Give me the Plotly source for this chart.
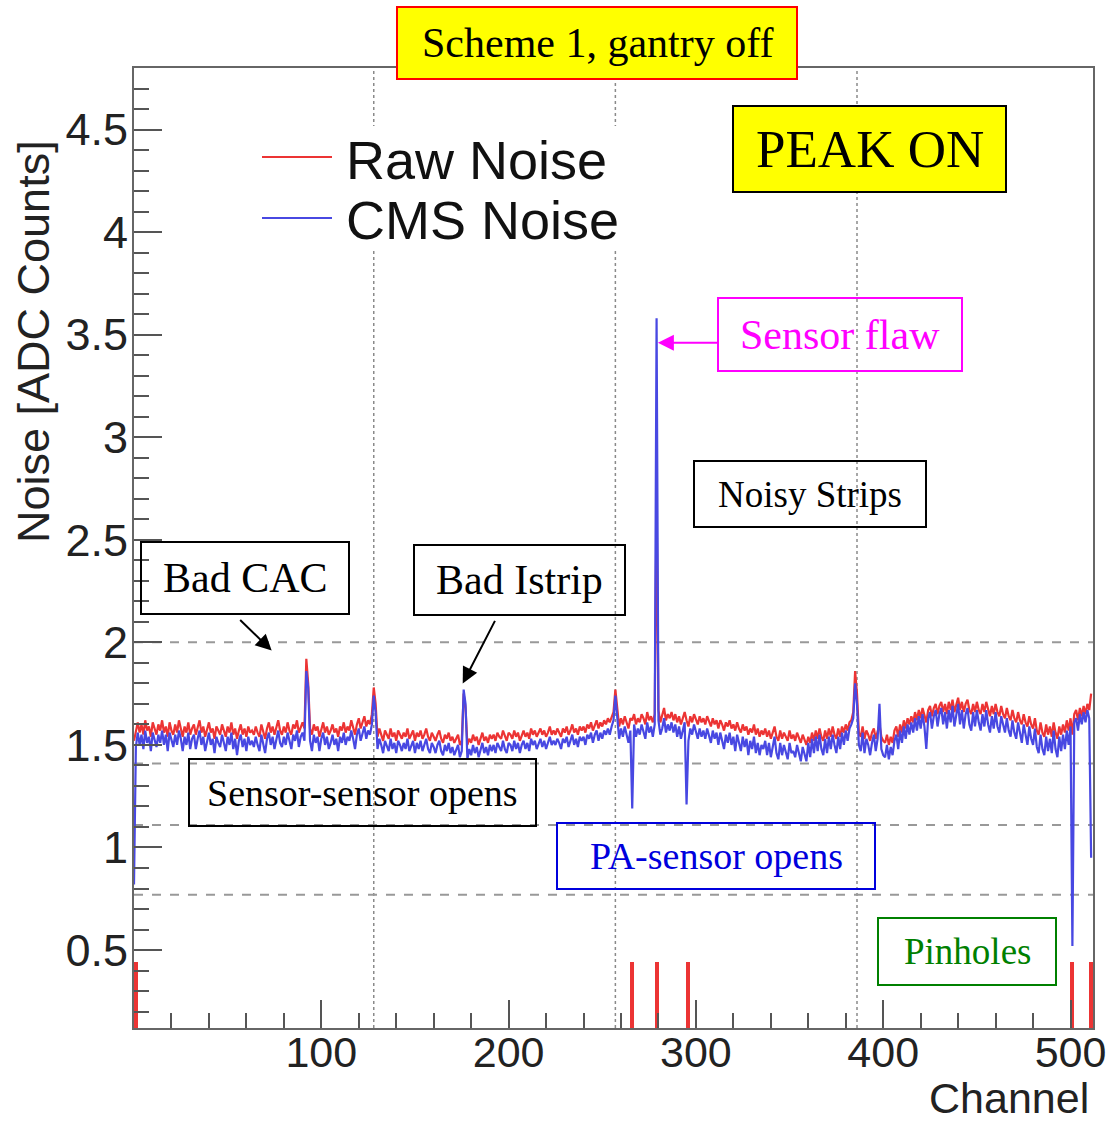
import plotly.graph_objects as go

# ---------------- data ----------------
channels = list(range(512))

raw_noise = [
    1.52,1.57,1.61,1.56,1.60,1.55,1.62,1.57,1.59,1.54,1.61,1.58,1.55,1.60,1.57,1.62,
    1.56,1.59,1.54,1.61,1.57,1.55,1.60,1.56,1.62,1.58,1.54,1.59,1.56,1.61,1.55,1.58,
    1.60,1.55,1.58,1.62,1.56,1.59,1.54,1.57,1.61,1.56,1.58,1.53,1.59,1.57,1.55,1.60,
    1.57,1.54,1.59,1.56,1.61,1.55,1.58,1.53,1.57,1.60,1.55,1.58,1.54,1.59,1.56,1.57,
    1.55,1.59,1.56,1.54,1.60,1.57,1.53,1.58,1.61,1.56,1.59,1.55,1.58,1.62,1.57,1.55,
    1.59,1.56,1.61,1.57,1.55,1.60,1.58,1.62,1.56,1.59,1.61,1.58,1.92,1.80,1.58,1.55,
    1.60,1.57,1.59,1.54,1.58,1.61,1.56,1.59,1.55,1.57,1.60,1.56,1.58,1.54,1.59,1.57,
    1.61,1.56,1.59,1.57,1.62,1.58,1.55,1.60,1.63,1.58,1.61,1.64,1.59,1.62,1.60,1.65,
    1.78,1.70,1.54,1.58,1.55,1.52,1.57,1.55,1.53,1.58,1.54,1.56,1.52,1.57,1.55,1.53,
    1.56,1.54,1.58,1.53,1.55,1.57,1.52,1.56,1.54,1.57,1.53,1.55,1.58,1.54,1.52,1.56,
    1.54,1.52,1.55,1.57,1.53,1.51,1.55,1.53,1.56,1.52,1.54,1.51,1.53,1.55,1.50,1.52,
    1.75,1.68,1.50,1.53,1.51,1.55,1.52,1.54,1.50,1.53,1.56,1.52,1.54,1.51,1.55,1.53,
    1.55,1.52,1.56,1.54,1.53,1.57,1.54,1.52,1.56,1.55,1.53,1.57,1.54,1.56,1.52,1.55,
    1.57,1.54,1.56,1.53,1.58,1.55,1.57,1.54,1.56,1.58,1.55,1.57,1.54,1.56,1.59,1.55,
    1.57,1.55,1.58,1.56,1.54,1.58,1.56,1.59,1.55,1.57,1.60,1.56,1.58,1.55,1.59,1.57,
    1.59,1.56,1.60,1.58,1.61,1.57,1.60,1.62,1.58,1.61,1.59,1.62,1.60,1.63,1.61,1.64,
    1.66,1.77,1.68,1.59,1.63,1.60,1.64,1.61,1.58,1.63,1.62,1.65,1.60,1.63,1.61,1.65,
    1.63,1.60,1.66,1.62,1.64,1.61,1.65,2.70,1.67,1.61,1.64,1.68,1.62,1.65,1.63,1.66,
    1.62,1.65,1.61,1.64,1.60,1.63,1.66,1.62,1.59,1.64,1.61,1.65,1.62,1.60,1.64,1.61,
    1.63,1.60,1.64,1.61,1.59,1.63,1.60,1.62,1.58,1.62,1.60,1.57,1.61,1.59,1.62,1.58,
    1.60,1.57,1.61,1.58,1.56,1.60,1.57,1.59,1.55,1.58,1.56,1.60,1.55,1.58,1.54,1.57,
    1.55,1.58,1.54,1.57,1.53,1.56,1.59,1.54,1.52,1.57,1.53,1.56,1.54,1.52,1.57,1.53,
    1.55,1.52,1.56,1.53,1.51,1.55,1.52,1.50,1.54,1.51,1.56,1.52,1.57,1.53,1.58,1.54,
    1.52,1.57,1.53,1.58,1.54,1.59,1.55,1.53,1.58,1.54,1.59,1.56,1.60,1.57,1.61,1.62,
    1.66,1.86,1.75,1.56,1.54,1.59,1.53,1.57,1.55,1.52,1.56,1.58,1.53,1.57,1.60,1.54,
    1.52,1.51,1.55,1.50,1.54,1.51,1.57,1.59,1.54,1.60,1.56,1.62,1.58,1.63,1.60,1.64,
    1.61,1.66,1.62,1.67,1.63,1.68,1.64,1.61,1.67,1.69,1.64,1.68,1.70,1.65,1.69,1.71,
    1.66,1.70,1.65,1.71,1.67,1.72,1.66,1.70,1.73,1.67,1.71,1.66,1.70,1.72,1.67,1.65,
    1.70,1.66,1.71,1.67,1.65,1.70,1.66,1.71,1.67,1.64,1.69,1.65,1.70,1.66,1.64,1.69,
    1.65,1.63,1.68,1.64,1.62,1.67,1.63,1.61,1.66,1.62,1.60,1.65,1.61,1.59,1.64,1.60,
    1.58,1.63,1.57,1.55,1.61,1.56,1.54,1.60,1.55,1.59,1.54,1.61,1.56,1.53,1.59,1.55,
    1.60,1.56,1.62,1.57,1.63,1.55,1.65,1.67,1.62,1.68,1.64,1.69,1.65,1.70,1.67,1.75,
]

cms_noise = [
    0.82,1.49,1.56,1.50,1.55,1.48,1.57,1.51,1.54,1.47,1.56,1.53,1.49,1.55,1.51,1.57,
    1.50,1.55,1.47,1.56,1.52,1.49,1.55,1.50,1.57,1.53,1.47,1.54,1.50,1.56,1.48,1.53,
    1.55,1.48,1.53,1.57,1.50,1.54,1.47,1.52,1.56,1.50,1.53,1.46,1.54,1.51,1.49,1.55,
    1.51,1.47,1.54,1.50,1.56,1.48,1.53,1.45,1.52,1.55,1.49,1.53,1.47,1.54,1.50,1.52,
    1.49,1.54,1.50,1.47,1.55,1.51,1.46,1.53,1.56,1.50,1.54,1.48,1.53,1.57,1.51,1.49,
    1.54,1.50,1.56,1.51,1.48,1.55,1.52,1.57,1.49,1.54,1.56,1.52,1.86,1.78,1.52,1.47,
    1.55,1.51,1.54,1.47,1.53,1.56,1.50,1.54,1.48,1.51,1.55,1.50,1.53,1.47,1.54,1.51,
    1.56,1.50,1.54,1.52,1.57,1.53,1.48,1.55,1.58,1.52,1.56,1.59,1.53,1.57,1.55,1.60,
    1.74,1.66,1.48,1.53,1.50,1.46,1.52,1.49,1.47,1.53,1.48,1.51,1.46,1.52,1.50,1.47,
    1.51,1.48,1.53,1.47,1.50,1.52,1.46,1.51,1.48,1.52,1.47,1.50,1.53,1.48,1.46,1.51,
    1.49,1.46,1.50,1.52,1.47,1.45,1.50,1.47,1.51,1.46,1.49,1.45,1.48,1.50,1.44,1.47,
    1.77,1.70,1.43,1.48,1.45,1.50,1.46,1.49,1.44,1.48,1.51,1.46,1.49,1.45,1.50,1.47,
    1.50,1.46,1.51,1.49,1.47,1.52,1.48,1.46,1.51,1.50,1.47,1.52,1.48,1.51,1.46,1.50,
    1.52,1.48,1.51,1.47,1.53,1.50,1.52,1.48,1.51,1.53,1.49,1.52,1.48,1.51,1.54,1.50,
    1.52,1.50,1.53,1.51,1.48,1.53,1.51,1.54,1.49,1.52,1.55,1.50,1.53,1.49,1.54,1.52,
    1.54,1.50,1.55,1.53,1.56,1.51,1.55,1.57,1.52,1.56,1.53,1.57,1.55,1.58,1.55,1.59,
    1.62,1.74,1.65,1.53,1.58,1.54,1.59,1.55,1.51,1.57,1.19,1.60,1.54,1.58,1.55,1.60,
    1.57,1.53,1.61,1.56,1.59,1.54,1.60,3.58,1.62,1.55,1.58,1.63,1.56,1.60,1.57,1.61,
    1.56,1.60,1.54,1.59,1.53,1.57,1.61,1.21,1.52,1.58,1.55,1.60,1.56,1.53,1.58,1.54,
    1.57,1.53,1.58,1.55,1.51,1.57,1.53,1.56,1.50,1.56,1.52,1.48,1.55,1.51,1.56,1.50,
    1.54,1.47,1.55,1.51,1.47,1.54,1.49,1.53,1.45,1.52,1.48,1.54,1.46,1.51,1.45,1.50,
    1.48,1.52,1.45,1.51,1.44,1.49,1.54,1.46,1.43,1.51,1.45,1.50,1.47,1.43,1.51,1.46,
    1.47,1.44,1.50,1.45,1.42,1.49,1.45,1.42,1.51,1.44,1.53,1.46,1.54,1.47,1.55,1.48,
    1.45,1.53,1.46,1.54,1.48,1.55,1.50,1.46,1.54,1.48,1.56,1.50,1.57,1.52,1.58,1.60,
    1.63,1.80,1.70,1.50,1.47,1.56,1.46,1.53,1.50,1.45,1.51,1.55,1.47,1.53,1.70,1.48,
    1.45,1.44,1.50,1.43,1.49,1.45,1.52,1.55,1.48,1.57,1.51,1.59,1.53,1.60,1.55,1.61,
    1.56,1.63,1.57,1.64,1.58,1.65,1.59,1.48,1.63,1.66,1.58,1.64,1.67,1.59,1.65,1.68,
    1.60,1.66,1.58,1.67,1.61,1.69,1.59,1.65,1.70,1.60,1.67,1.58,1.65,1.68,1.60,1.57,
    1.66,1.59,1.67,1.61,1.57,1.65,1.59,1.67,1.60,1.56,1.64,1.58,1.66,1.59,1.56,1.64,
    1.59,1.56,1.63,1.57,1.54,1.62,1.56,1.53,1.61,1.55,1.51,1.60,1.54,1.50,1.59,1.53,
    1.50,1.58,1.49,1.46,1.55,1.48,1.45,1.54,1.47,1.53,1.46,1.57,1.48,1.44,1.54,1.47,
    1.55,1.48,1.57,1.50,1.59,0.52,1.61,1.63,1.57,1.65,1.60,1.66,1.61,1.67,1.63,0.95,
]

pinhole_channels = [1, 266, 279, 296, 501, 511]
pinhole_flag = [0.44, 0.44, 0.44, 0.44, 0.44, 0.44]

x_tick_vals = [100, 200, 300, 400, 500]
y_tick_vals = [0.5, 1.0, 1.5, 2.0, 2.5, 3.0, 3.5, 4.0, 4.5]
y_tick_text = ["0.5", "1", "1.5", "2", "2.5", "3", "3.5", "4", "4.5"]

vgrid_channels = [128, 257, 386]
hgrid_levels = [2.0, 1.41, 1.11, 0.77]

# ---------------- figure geometry ----------------
W, H = 1117, 1125
L, R, T, B = 134, 1093, 68, 1028
SANS = "Liberation Sans, Arial, Helvetica, sans-serif"
SERIF = "Liberation Serif, Times New Roman, serif"
RED = "rgb(236,52,52)"
BLUE = "rgb(72,72,226)"


def px(x):
    return (x - L) / (R - L)


def py(y):
    return (B - y) / (B - T)


fig = go.Figure()

fig.add_trace(go.Bar(x=pinhole_channels, y=pinhole_flag, width=2.2,
                     marker=dict(color=RED, line=dict(width=0)),
                     name="Pinholes", showlegend=False))
fig.add_trace(go.Scatter(x=channels, y=raw_noise, mode="lines",
                         line=dict(color=RED, width=2.2), name="Raw Noise",
                         showlegend=False))
fig.add_trace(go.Scatter(x=channels, y=cms_noise, mode="lines",
                         line=dict(color=BLUE, width=2.2), name="CMS Noise",
                         showlegend=False))

shapes = []
# grid lines (custom positions)
for c in vgrid_channels:
    shapes.append(dict(type="line", xref="x", yref="paper", x0=c, x1=c, y0=0, y1=1,
                       line=dict(color="#8a8a8a", width=1.5, dash="dot"), layer="below"))
for v in hgrid_levels:
    shapes.append(dict(type="line", xref="paper", yref="y", x0=0, x1=1, y0=v, y1=v,
                       line=dict(color="#999999", width=2, dash="dash"), layer="below"))
# legend background
shapes.append(dict(type="rect", xref="paper", yref="paper", x0=px(232), x1=px(632),
                   y0=py(250), y1=py(126), fillcolor="white", line=dict(width=0),
                   layer="below"))
# legend lines
shapes.append(dict(type="line", xref="paper", yref="paper", x0=px(262), x1=px(332),
                   y0=py(157), y1=py(157), line=dict(color=RED, width=2)))
shapes.append(dict(type="line", xref="paper", yref="paper", x0=px(262), x1=px(332),
                   y0=py(218), y1=py(218), line=dict(color=BLUE, width=2)))

annotations = []

boxes = [
    # x0, y0, x1, y1, text, size, text color, border color, fill
    (397, 7, 797, 79, "Scheme 1, gantry off", 42, "black", "red", "yellow"),
    (733, 106, 1006, 192, "PEAK ON", 53, "black", "black", "yellow"),
    (718, 298, 962, 371, "Sensor flaw", 42, "#ff00ff", "#ff00ff", "rgba(0,0,0,0)"),
    (694, 461, 926, 527, "Noisy Strips", 37, "black", "black", "rgba(0,0,0,0)"),
    (141, 542, 349, 614, "Bad CAC", 42, "black", "black", "rgba(0,0,0,0)"),
    (414, 545, 625, 615, "Bad Istrip", 42, "black", "black", "rgba(0,0,0,0)"),
    (189, 759, 536, 826, "Sensor-sensor opens", 38, "black", "black", "rgba(0,0,0,0)"),
    (557, 823, 875, 889, "PA-sensor opens", 38, "#0000dd", "#0000dd", "rgba(0,0,0,0)"),
    (878, 918, 1056, 985, "Pinholes", 37, "#008000", "#008000", "rgba(0,0,0,0)"),
]
for x0, y0, x1, y1, txt, size, tcol, bcol, fill in boxes:
    shapes.append(dict(type="rect", xref="paper", yref="paper", x0=px(x0), x1=px(x1),
                       y0=py(y1), y1=py(y0), fillcolor=fill,
                       line=dict(color=bcol, width=2), layer="above"))
    annotations.append(dict(xref="paper", yref="paper", x=px((x0 + x1) / 2),
                            y=py((y0 + y1) / 2), text=txt, showarrow=False,
                            xanchor="center", yanchor="middle",
                            font=dict(family=SERIF, size=size, color=tcol)))

# legend texts
annotations.append(dict(xref="paper", yref="paper", x=px(344), y=py(160), text="Raw Noise",
                        showarrow=False, xanchor="left", yanchor="middle",
                        font=dict(family=SANS, size=54, color="#111")))
annotations.append(dict(xref="paper", yref="paper", x=px(344), y=py(220), text="CMS Noise",
                        showarrow=False, xanchor="left", yanchor="middle",
                        font=dict(family=SANS, size=54, color="#111")))

# arrows
annotations.append(dict(xref="x", yref="y", x=279.7, y=3.46, ax=62, ay=0, text="",
                        showarrow=True, arrowhead=2, arrowsize=1.6, arrowwidth=2,
                        arrowcolor="#ff00ff", standoff=0))
annotations.append(dict(xref="x", yref="y", x=73.5, y=1.96, ax=-33, ay=-32, text="",
                        showarrow=True, arrowhead=2, arrowsize=1.6, arrowwidth=2,
                        arrowcolor="black", standoff=0))
annotations.append(dict(xref="x", yref="y", x=175.5, y=1.80, ax=33, ay=-64, text="",
                        showarrow=True, arrowhead=2, arrowsize=1.6, arrowwidth=2,
                        arrowcolor="black", standoff=0))

# axis titles
annotations.append(dict(xref="paper", yref="paper", x=px(1091), y=py(1098), text="Channel",
                        showarrow=False, xanchor="right", yanchor="middle",
                        font=dict(family=SANS, size=43, color="#222")))
annotations.append(dict(xref="paper", yref="paper", x=px(33), y=py(342),
                        text="Noise [ADC Counts]", textangle=-90, showarrow=False,
                        xanchor="center", yanchor="middle",
                        font=dict(family=SANS, size=45, color="#222")))

fig.update_layout(
    width=W, height=H, autosize=False,
    margin=dict(l=L, r=W - R, t=T, b=H - B, pad=0),
    paper_bgcolor="white", plot_bgcolor="white",
    showlegend=False, bargap=0,
    shapes=shapes, annotations=annotations,
    xaxis=dict(range=[0, 512], tickmode="array", tickvals=x_tick_vals,
               ticks="inside", ticklen=28, tickwidth=1.5, tickcolor="#555",
               ticklabelstandoff=-15,
               minor=dict(tickmode="linear", tick0=0, dtick=20, ticks="inside",
                          ticklen=15, tickwidth=1.5, tickcolor="#555", showgrid=False),
               showgrid=False, zeroline=False, showline=True, linecolor="#666",
               linewidth=2, mirror=True,
               tickfont=dict(family=SANS, size=43, color="#222")),
    yaxis=dict(range=[0.12, 4.80], tickmode="array", tickvals=y_tick_vals,
               ticktext=y_tick_text,
               ticks="inside", ticklen=28, tickwidth=1.5, tickcolor="#555",
               ticklabelstandoff=-5,
               minor=dict(tickmode="linear", tick0=0, dtick=0.1, ticks="inside",
                          ticklen=15, tickwidth=1.5, tickcolor="#555", showgrid=False),
               showgrid=False, zeroline=False, showline=True, linecolor="#666",
               linewidth=2, mirror=True,
               tickfont=dict(family=SANS, size=45, color="#222")),
)

fig.write_html("out.html")
